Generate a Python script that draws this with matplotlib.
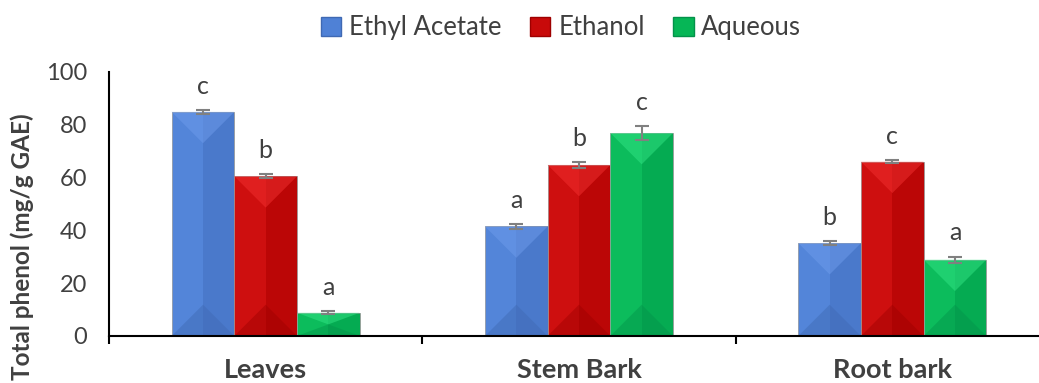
import matplotlib.pyplot as plt
import numpy as np
from matplotlib.patches import Patch, Polygon

plt.rcParams['font.family'] = ['Lato', 'DejaVu Sans']

# Total phenol content per plant part and extraction solvent
parts = ["Leaves", "Stem Bark", "Root bark"]
solvents = ["Ethyl Acetate", "Ethanol", "Aqueous"]
ethyl_acetate = [84.9, 41.5, 35.2]
ethanol = [60.5, 64.8, 66.0]
aqueous = [8.8, 76.9, 28.9]
ethyl_acetate_err = [0.7, 0.8, 0.6]
ethanol_err = [0.7, 1.1, 0.6]
aqueous_err = [0.5, 2.6, 1.2]
ethyl_acetate_sig = ["c", "a", "b"]
ethanol_sig = ["b", "b", "c"]
aqueous_sig = ["a", "c", "a"]

# base, light (left half / top facet), dark (right half / bottom facet)
palette = {
    "Ethyl Acetate": ("#4F81D6", "#6E9CEB", "#3F69B3"),
    "Ethanol": ("#C80A0A", "#F23030", "#9E0000"),
    "Aqueous": ("#06B656", "#33E585", "#03924A"),
}

series = [
    (ethyl_acetate, ethyl_acetate_err, ethyl_acetate_sig),
    (ethanol, ethanol_err, ethanol_sig),
    (aqueous, aqueous_err, aqueous_sig),
]

fig = plt.figure(figsize=(10.39, 3.83), dpi=100)
ax = fig.add_axes([109 / 1039, 47 / 383, 940 / 1039, 264 / 383])

x = np.arange(len(parts))
width = 0.2
ax.set_xlim(-0.5, 2.5)
ax.set_ylim(0, 100)

bars_all = []
for i, (name, (vals, errs, sig)) in enumerate(zip(solvents, series)):
    base, light, dark = palette[name]
    pos = x + (i - 1) * width
    bars = ax.bar(pos, vals, width, color=base, edgecolor="#9a9a9a",
                  linewidth=0.6, zorder=2)
    bars_all.append((bars, light, dark))
    ax.errorbar(pos, vals, yerr=errs, fmt="none", ecolor="#808080",
                elinewidth=1.5, capsize=5, capthick=1.5, zorder=4)
    for p, v, e, s in zip(pos, vals, errs, sig):
        ax.annotate(s, (p, v + e), xytext=(0, 9), textcoords="offset points",
                    ha="center", va="bottom", fontsize=18, color="#404040")

# bevel shading on each bar
fig.canvas.draw()
to_disp = ax.transData
to_data = ax.transData.inverted()
for bars, light, dark in bars_all:
    for b in bars:
        x0, y0 = b.get_x(), b.get_y()
        w, h = b.get_width(), b.get_height()
        (px0, py0) = to_disp.transform((x0, y0))
        (px1, py1) = to_disp.transform((x0 + w, y0 + h))
        half = (px1 - px0) / 2
        depth = min(half, (py1 - py0) / 2)
        _, dy = to_data.transform((px0, py0 + depth))
        dy = dy - y0
        xm = x0 + w / 2
        ax.add_patch(Polygon([(xm, y0), (x0 + w, y0), (x0 + w, y0 + h), (xm, y0 + h)],
                             closed=True, color=dark, alpha=0.3, lw=0, zorder=2.1))
        ax.add_patch(Polygon([(x0, y0), (xm, y0), (xm, y0 + h), (x0, y0 + h)],
                             closed=True, color=light, alpha=0.15, lw=0, zorder=2.1))
        ax.add_patch(Polygon([(x0, y0 + h), (x0 + w, y0 + h), (xm, y0 + h - dy)],
                             closed=True, color=light, alpha=0.5, lw=0, zorder=2.2))
        ax.add_patch(Polygon([(x0, y0), (x0 + w, y0), (xm, y0 + dy)],
                             closed=True, color=dark, alpha=0.45, lw=0, zorder=2.2))

for side in ["top", "right"]:
    ax.spines[side].set_visible(False)
for side in ["left", "bottom"]:
    ax.spines[side].set_color("black")
    ax.spines[side].set_linewidth(1.5)
ax.spines["bottom"].set_zorder(5)

ax.set_yticks([0, 20, 40, 60, 80, 100])
ax.tick_params(axis="y", length=0, pad=16, labelsize=17, labelcolor="#404040")
ax.set_xticks(x)
ax.set_xticklabels(parts, fontsize=19.5, fontweight="bold", color="#404040")
ax.tick_params(axis="x", which="major", length=0, pad=16)
ax.set_xticks([-0.5, 0.5, 1.5, 2.5], minor=True)
ax.tick_params(axis="x", which="minor", length=6, width=1.5, direction="out")

ax.set_ylabel("Total phenol (mg/g GAE)", fontsize=17.5, fontweight="bold",
              color="#404040")
ax.yaxis.set_label_coords(-0.08, 0.34)

handles = [Patch(facecolor=palette[n][0], edgecolor=palette[n][2], label=n)
           for n in solvents]
fig.legend(handles=handles, loc="upper center", bbox_to_anchor=(0.54, 1.02),
           ncol=3, frameon=False, fontsize=18.5, handlelength=0.8,
           handleheight=0.8, handletextpad=0.3, columnspacing=1.1,
           labelcolor="#404040")

fig.savefig("out.png", dpi=100)
